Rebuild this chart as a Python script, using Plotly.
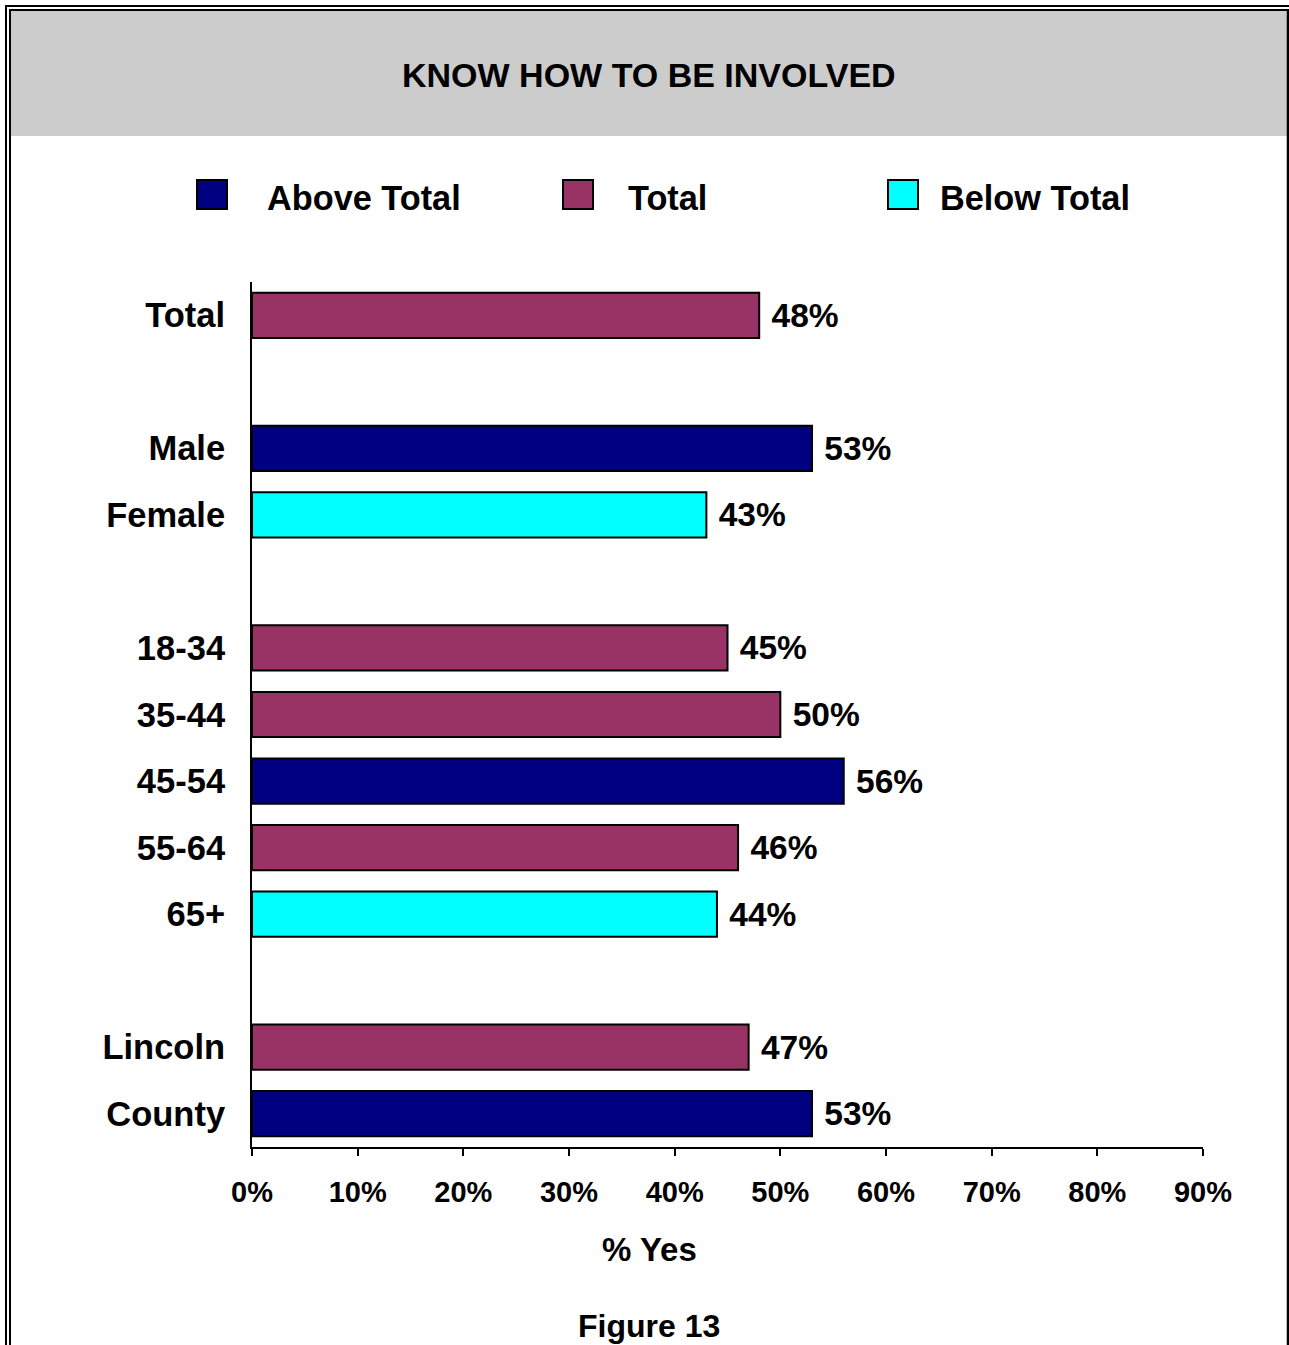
import plotly.graph_objects as go

# ---- data ----
labels = ["Total", "", "Male", "Female", "", "18-34", "35-44", "45-54", "55-64", "65+", "", "Lincoln", "County"]
bar_labels = ["Total", "Male", "Female", "18-34", "35-44", "45-54", "55-64", "65+", "Lincoln", "County"]
values = [48, 53, 43, 45, 50, 56, 46, 44, 47, 53]
groups = ["Total", "Above Total", "Below Total", "Total", "Total", "Above Total", "Total", "Below Total", "Total", "Above Total"]
x_ticks = [0, 10, 20, 30, 40, 50, 60, 70, 80, 90]
x_ticktext = [f"{t}%" for t in x_ticks]

colors = {"Above Total": "#000080", "Total": "#993366", "Below Total": "#00FFFF"}
FONT = "Arial, Liberation Sans, Arimo, sans-serif"

W, H = 1289, 1345
PX0, PX1, PY0, PY1 = 252, 1203, 282, 1147  # plot area pixels


def px(x):
    return (x - PX0) / (PX1 - PX0)


def py(y):
    return (PY1 - y) / (PY1 - PY0)


positions = [len(labels) - 1 - labels[::-1].index(b) for b in bar_labels]

fig = go.Figure()
fig.add_trace(go.Bar(
    x=values,
    y=positions,
    orientation="h",
    width=0.68,
    marker=dict(color=[colors[g] for g in groups], line=dict(color="black", width=2)),
    text=[f" {v}%" for v in values],
    textposition="outside",
    textfont=dict(family=FONT, size=33.5, color="black", weight="bold"),
    constraintext="none",
    cliponaxis=False,
    showlegend=False,
    hoverinfo="skip",
))

shapes = []
# gray header band
shapes.append(dict(type="rect", xref="paper", yref="paper", x0=px(11), x1=px(1287), y0=py(10), y1=py(136),
                   fillcolor="#CCCCCC", line=dict(width=0), layer="below"))
# border lines
line_kw = dict(type="line", xref="paper", yref="paper", line=dict(color="black", width=2))
shapes.append(dict(line_kw, x0=px(5), x1=px(1289), y0=py(6), y1=py(6)))
shapes.append(dict(line_kw, x0=px(10), x1=px(1287), y0=py(10), y1=py(10)))
shapes.append(dict(line_kw, x0=px(6), x1=px(6), y0=py(5), y1=py(1345)))
shapes.append(dict(line_kw, x0=px(10), x1=px(10), y0=py(9), y1=py(1345)))
shapes.append(dict(type="line", xref="paper", yref="paper", x0=px(1288), x1=px(1288), y0=py(9), y1=py(1345),
                   line=dict(color="black", width=2.5)))

annotations = [
    dict(text="KNOW HOW TO BE INVOLVED", xref="paper", yref="paper", x=px(649), y=py(75),
         showarrow=False, xanchor="center", yanchor="middle",
         font=dict(family=FONT, size=34, color="black", weight="bold")),
    dict(text="% Yes", xref="paper", yref="paper", x=px(649), y=py(1249),
         showarrow=False, xanchor="center", yanchor="middle",
         font=dict(family=FONT, size=33, color="black", weight="bold")),
    dict(text="Figure 13", xref="paper", yref="paper", x=px(649), y=py(1326),
         showarrow=False, xanchor="center", yanchor="middle",
         font=dict(family=FONT, size=32, color="black", weight="bold")),
]

# manual legend
legend_items = [("Above Total", 197, 265), ("Total", 563, 626), ("Below Total", 888, 938)]
for name, sx, tx in legend_items:
    shapes.append(dict(type="rect", xref="paper", yref="paper", x0=px(sx), x1=px(sx + 30),
                       y0=py(180), y1=py(209), fillcolor=colors[name], line=dict(color="black", width=2)))
    annotations.append(dict(text=name, xref="paper", yref="paper", x=px(tx), y=py(198),
                            showarrow=False, xanchor="left", yanchor="middle",
                            font=dict(family=FONT, size=34.3, color="black", weight="bold")))

fig.update_layout(
    width=W, height=H,
    margin=dict(l=PX0, r=W - PX1, t=PY0, b=H - PY1, pad=0),
    paper_bgcolor="white", plot_bgcolor="white",
    shapes=shapes, annotations=annotations,
    xaxis=dict(range=[0, 90], tickvals=x_ticks, ticktext=x_ticktext, showgrid=False, zeroline=False,
               showline=True, linecolor="black", linewidth=2, ticks="outside", ticklen=7, tickwidth=2,
               tickcolor="black", ticklabelstandoff=11,
               tickfont=dict(family=FONT, size=29, color="black", weight="bold")),
    yaxis=dict(range=[12.5, -0.5], tickvals=list(range(len(labels))), ticktext=labels, showgrid=False,
               zeroline=False, showline=True, linecolor="black", linewidth=2, ticks="", ticklabelstandoff=18,
               tickfont=dict(family=FONT, size=34.5, color="black", weight="bold")),
    bargap=0.3,
)

fig.write_html("out.html", config={"displayModeBar": False},
               post_script="document.body.style.margin='0';document.body.style.overflow='hidden';")
